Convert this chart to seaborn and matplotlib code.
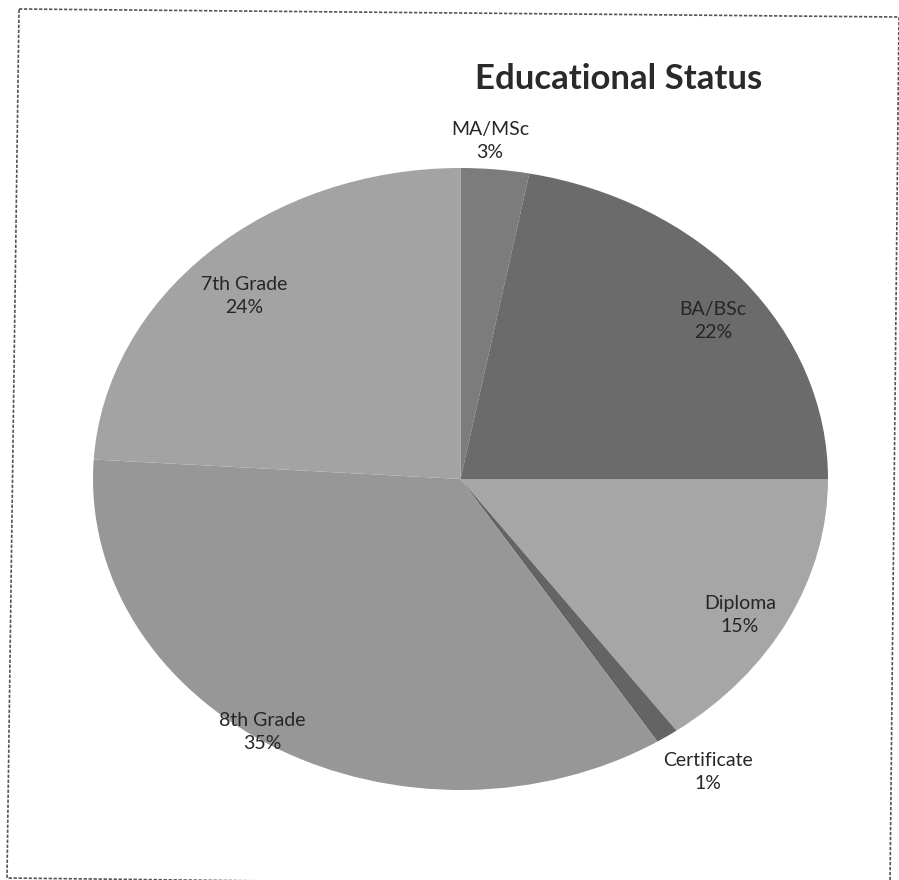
import matplotlib
matplotlib.use("Agg")
import matplotlib.pyplot as plt
import seaborn as sns
from matplotlib.patches import Polygon

categories = ["MA/MSc", "BA/BSc", "Diploma", "Certificate", "8th Grade", "7th Grade"]
percents = [3, 22, 15, 1, 35, 24]
colors = ["#7c7c7c", "#6b6b6b", "#a6a6a6", "#646464", "#979797", "#a3a3a3"]
# label centres in pixels (x, y from top)
label_px = [(490, 141), (713, 321), (740, 615), (708, 772), (262, 732), (244, 296)]

sns.set_theme(style="white")
plt.rcParams['font.family'] = ['Lato', 'DejaVu Sans']

W, H = 899, 880
fig = plt.figure(figsize=(W / 100, H / 100), dpi=100)
fig.patch.set_facecolor("white")

# pie area in pixels
left, right, top, bottom = 93, 828, 168, 790
ax = fig.add_axes([left / W, 1 - bottom / H, (right - left) / W, (bottom - top) / H])
ax.pie(percents, colors=colors, startangle=90, counterclock=False,
       wedgeprops=dict(linewidth=0, edgecolor="none"), radius=1)
ax.set_aspect("auto")
ax.set_xlim(-1, 1)
ax.set_ylim(-1, 1)
ax.axis("off")

for cat, p, (px, py) in zip(categories, percents, label_px):
    fig.text(px / W, 1 - py / H, f"{cat}\n{p}%", ha="center", va="center",
             fontsize=14, color="#262626", linespacing=1.38)

fig.text(619 / W, 1 - 79 / H, "Educational Status", ha="center", va="center",
         fontsize=25, fontweight="bold", color="#2a2a2a")

# scanned frame border
corners = [(19, 9), (899, 17), (890, 888), (7, 878)]
frame = Polygon([(x / W, 1 - y / H) for x, y in corners], closed=True, fill=False,
                edgecolor="#555555", linewidth=1.2, linestyle=(0, (2, 1)),
                transform=fig.transFigure)
fig.add_artist(frame)

fig.savefig("out.png", dpi=100)
